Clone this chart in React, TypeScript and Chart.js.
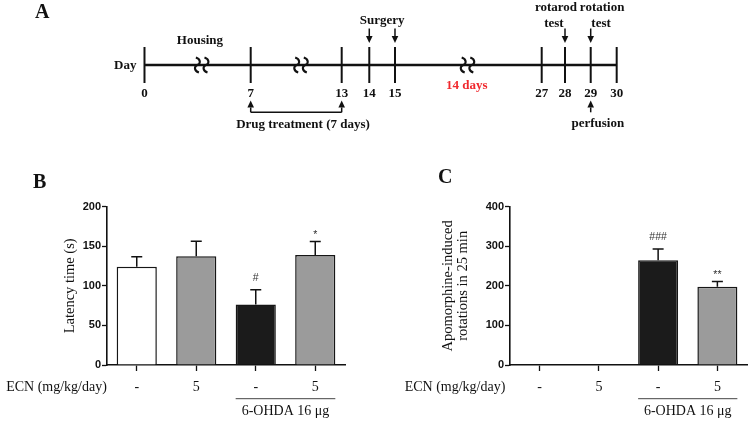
import React, { useEffect, useRef } from "react";
import { Chart, registerables } from "chart.js";

Chart.register(...registerables);

const SERIF = '"Liberation Serif", "Times New Roman", serif';
const SANS = '"Liberation Sans", Arial, sans-serif';

// ---------- Panel A: experimental timeline ----------
const dayLabels = ["0", "7", "13", "14", "15", "27", "28", "29", "30"];
// position of each day on the (compressed) timeline axis
const dayAxisPos = [0, 4.161, 7.726, 8.807, 9.814, 15.562, 16.475, 17.482, 18.5];
const breakAxisPos = [2.241, 6.132, 12.655];
const surgeryDays = ["14", "15"];
const testDays = ["28", "29"];
const treatmentDays = ["7", "13"];
const perfusionDays = ["29"];
const timelineNotes = [
  { text: "Housing", pos: 2.174, row: 41, color: "#111" },
  { text: "Surgery", pos: 9.31, row: 21, color: "#111" },
  { text: "rotarod", pos: 16.12, row: 8, color: "#111" },
  { text: "test", pos: 16.04, row: 24, color: "#111" },
  { text: "rotation", pos: 17.93, row: 8, color: "#111" },
  { text: "test", pos: 17.89, row: 24, color: "#111" },
  { text: "14 days", pos: 12.63, row: 86, color: "#f0282d" },
  { text: "Drug treatment (7 days)", pos: 6.21, row: 124.3, color: "#111" },
  { text: "perfusion", pos: 17.76, row: 123.5, color: "#111" },
];

// ---------- Panels B & C ----------
const groupLabels = ["-", "5", "-", "5"];
const latencyMeans = [124.2, 137.5, 76.5, 139];
const latencyErrors = [12.5, 19, 18.5, 17];
const latencyMarks = ["", "", "#", "*"];
const rotationMeans = [0, 0, 265, 198];
const rotationErrors = [0, 0, 28, 13];
const rotationMarks = ["", "", "###", "**"];
const barFills = ["#ffffff", "#9b9b9b", "#1b1b1b", "#9b9b9b"];

const LINE_ROW = 65;

function drawArrow(ctx: CanvasRenderingContext2D, x: number, yTail: number, yTip: number) {
  const dir = yTip > yTail ? 1 : -1;
  const head = 7;
  ctx.beginPath();
  ctx.moveTo(x, yTail);
  ctx.lineTo(x, yTip - dir * head);
  ctx.stroke();
  ctx.beginPath();
  ctx.moveTo(x, yTip);
  ctx.lineTo(x - 3.3, yTip - dir * head);
  ctx.lineTo(x + 3.3, yTip - dir * head);
  ctx.closePath();
  ctx.fill();
}

function drawSquiggle(ctx: CanvasRenderingContext2D, x: number, y: number) {
  ctx.beginPath();
  ctx.moveTo(x - 1.5, y - 7.5);
  ctx.bezierCurveTo(x + 4, y - 5.5, x + 3, y - 1, x, y);
  ctx.bezierCurveTo(x - 3, y + 1, x - 4, y + 5.5, x + 1.5, y + 7.5);
  ctx.stroke();
}

const timelinePlugin = {
  id: "timelineDecor",
  afterDatasetsDraw(chart: any) {
    const { ctx } = chart;
    const xs = chart.scales.x;
    const ys = chart.scales.y;
    const px = (p: number) => xs.getPixelForValue(p);
    const py = (r: number) => ys.getPixelForValue(r);
    const dayX = (d: string) => px(dayAxisPos[dayLabels.indexOf(d)]);
    ctx.save();
    ctx.strokeStyle = "#111";
    ctx.fillStyle = "#111";

    // axis breaks
    ctx.lineWidth = 2.1;
    breakAxisPos.forEach((b) => {
      const cx = px(b);
      drawSquiggle(ctx, cx - 4.3, py(LINE_ROW));
      drawSquiggle(ctx, cx + 4.3, py(LINE_ROW));
    });

    // arrows
    ctx.lineWidth = 1.5;
    [...surgeryDays, ...testDays].forEach((d) => drawArrow(ctx, dayX(d), py(28.5), py(43)));
    [...treatmentDays, ...perfusionDays].forEach((d) => drawArrow(ctx, dayX(d), py(112.3), py(100.5)));
    ctx.beginPath();
    ctx.moveTo(dayX(treatmentDays[0]), py(112.3));
    ctx.lineTo(dayX(treatmentDays[1]), py(112.3));
    ctx.stroke();

    // text
    ctx.textBaseline = "middle";
    ctx.textAlign = "center";
    ctx.font = `bold 13px ${SERIF}`;
    dayLabels.forEach((d, i) => ctx.fillText(d, px(dayAxisPos[i]), py(94)));
    timelineNotes.forEach((n) => {
      ctx.fillStyle = n.color;
      ctx.fillText(n.text, px(n.pos), py(n.row));
    });
    ctx.fillStyle = "#111";
    ctx.textAlign = "right";
    ctx.fillText("Day", px(dayAxisPos[0]) - 8, py(66));
    ctx.textAlign = "left";
    ctx.textBaseline = "alphabetic";
    ctx.font = `bold 20px ${SERIF}`;
    ctx.fillText("A", 35, 18);
    ctx.restore();
  },
};

function timelineConfig(): any {
  const last = dayAxisPos.length - 1;
  return {
    type: "scatter",
    data: {
      datasets: [
        {
          data: [
            { x: dayAxisPos[0], y: LINE_ROW },
            { x: dayAxisPos[last], y: LINE_ROW },
          ],
          showLine: true,
          borderColor: "#111",
          borderWidth: 2.6,
          pointRadius: 0,
        },
        {
          data: dayAxisPos.map((p) => ({ x: p, y: LINE_ROW })),
          showLine: false,
          pointStyle: "line",
          pointRotation: 90,
          pointRadius: 18,
          pointBorderWidth: 2,
          pointBorderColor: "#111",
          borderColor: "#111",
        },
      ],
    },
    options: {
      responsive: false,
      animation: false,
      events: [],
      layout: { padding: 0, autoPadding: false },
      plugins: { legend: { display: false }, tooltip: { enabled: false } },
      scales: {
        x: { type: "linear", display: false, min: -5.661, max: 23.723 },
        y: { type: "linear", display: false, min: 0, max: 140, reverse: true },
      },
    },
    plugins: [timelinePlugin],
  };
}

interface PanelCfg {
  means: number[];
  errors: number[];
  marks: string[];
  yMax: number;
  yStep: number;
  yTitle: string | string[];
  titleLineHeight: number;
  titleCenter: number;
  axisWidth: number;
  padRight: number;
  letter: string;
  letterX: number;
  letterY: number;
  ecnCenter: number;
}

function makeBarDecor(cfg: PanelCfg) {
  return {
    id: "barDecor",
    afterDatasetsDraw(chart: any) {
      const { ctx } = chart;
      const meta = chart.getDatasetMeta(0);
      const ys = chart.scales.y;
      ctx.save();
      ctx.strokeStyle = "#111";
      ctx.fillStyle = "#333";
      ctx.lineWidth = 1.5;
      cfg.means.forEach((m, i) => {
        const e = cfg.errors[i];
        const bar = meta.data[i];
        const yt = ys.getPixelForValue(m + e);
        if (e > 0) {
          const yb = ys.getPixelForValue(m);
          ctx.beginPath();
          ctx.moveTo(bar.x, yb);
          ctx.lineTo(bar.x, yt);
          ctx.moveTo(bar.x - 5.5, yt);
          ctx.lineTo(bar.x + 5.5, yt);
          ctx.stroke();
        }
        const mk = cfg.marks[i];
        if (mk) {
          ctx.font = `10.5px ${SANS}`;
          ctx.textAlign = "center";
          ctx.textBaseline = "middle";
          const off = mk.startsWith("*") ? 6 : 11.5;
          ctx.fillText(mk, bar.x, yt - off);
        }
      });
      ctx.restore();
    },
    afterDraw(chart: any) {
      const { ctx, chartArea } = chart;
      const meta = chart.getDatasetMeta(0);
      const b2 = meta.data[2];
      const b3 = meta.data[3];
      ctx.save();
      ctx.fillStyle = "#111";
      ctx.textBaseline = "alphabetic";
      ctx.textAlign = "left";
      ctx.font = `bold 20px ${SERIF}`;
      ctx.fillText(cfg.letter, cfg.letterX, cfg.letterY);

      ctx.font = `14px ${SERIF}`;
      ctx.textAlign = "center";
      ctx.textBaseline = "middle";
      ctx.fillText("ECN (mg/kg/day)", cfg.ecnCenter, chartArea.bottom + 22.7);

      const x0 = b2.x - b2.width / 2;
      const x1 = b3.x + b3.width / 2;
      ctx.strokeStyle = "#444";
      ctx.lineWidth = 1;
      ctx.beginPath();
      ctx.moveTo(x0, chartArea.bottom + 33.7);
      ctx.lineTo(x1, chartArea.bottom + 33.7);
      ctx.stroke();
      ctx.fillText("6-OHDA 16 \u03bcg", (b2.x + b3.x) / 2, chartArea.bottom + 46.7);
      ctx.restore();
    },
  };
}

function barConfig(cfg: PanelCfg): any {
  const titleSize = 14.5;
  const titlePad = cfg.titleCenter - (titleSize * cfg.titleLineHeight) / 2;
  return {
    type: "bar",
    data: {
      labels: groupLabels,
      datasets: [
        {
          data: cfg.means,
          backgroundColor: barFills,
          borderColor: "#161616",
          borderWidth: 1.5,
          barPercentage: 0.675,
          categoryPercentage: 1,
        },
      ],
    },
    options: {
      responsive: false,
      animation: false,
      events: [],
      layout: { padding: { top: 66.7, right: cfg.padRight, left: 0, bottom: 0 } },
      plugins: { legend: { display: false }, tooltip: { enabled: false } },
      scales: {
        x: {
          type: "category",
          offset: true,
          grid: {
            offset: false,
            drawOnChartArea: false,
            drawTicks: true,
            tickLength: 6,
            tickColor: "#111",
            tickWidth: 1.3,
          },
          border: { display: true, color: "#111", width: 1.6 },
          ticks: {
            color: "#111",
            font: { family: SERIF, size: 14 },
            padding: 8,
            maxRotation: 0,
            autoSkip: false,
          },
          afterFit: (s: any) => {
            s.height = 56;
            s.paddingLeft = 0;
            s.paddingRight = 0;
          },
        },
        y: {
          type: "linear",
          min: 0,
          max: cfg.yMax,
          ticks: {
            stepSize: cfg.yStep,
            color: "#111",
            font: { family: SANS, size: 11, weight: "bold" },
            padding: 1,
          },
          grid: {
            drawOnChartArea: false,
            drawTicks: true,
            tickLength: 5,
            tickColor: "#111",
            tickWidth: 1.3,
          },
          border: { display: true, color: "#111", width: 1.6 },
          title: {
            display: true,
            text: cfg.yTitle,
            color: "#111",
            font: { family: SERIF, size: titleSize, lineHeight: cfg.titleLineHeight },
            padding: { top: titlePad, bottom: 0 },
          },
          afterFit: (s: any) => {
            s.width = cfg.axisWidth;
            s.paddingTop = 0;
            s.paddingBottom = 0;
          },
        },
      },
    },
    plugins: [makeBarDecor(cfg)],
  };
}

export default function App() {
  const aRef = useRef<HTMLCanvasElement>(null);
  const bRef = useRef<HTMLCanvasElement>(null);
  const cRef = useRef<HTMLCanvasElement>(null);

  useEffect(() => {
    const charts: Chart[] = [];
    charts.push(new Chart(aRef.current!, timelineConfig()));
    charts.push(
      new Chart(
        bRef.current!,
        barConfig({
          means: latencyMeans,
          errors: latencyErrors,
          marks: latencyMarks,
          yMax: 200,
          yStep: 50,
          yTitle: "Latency time (s)",
          titleLineHeight: 1.2,
          titleCenter: 70,
          axisWidth: 107,
          padRight: 30,
          letter: "B",
          letterX: 33,
          letterY: 48,
          ecnCenter: 56.5,
        })
      )
    );
    charts.push(
      new Chart(
        cRef.current!,
        barConfig({
          means: rotationMeans,
          errors: rotationErrors,
          marks: rotationMarks,
          yMax: 400,
          yStep: 100,
          yTitle: ["Apomorphine-induced", "rotations in 25 min"],
          titleLineHeight: 1.03,
          titleCenter: 73,
          axisWidth: 135,
          padRight: 3,
          letter: "C",
          letterX: 63,
          letterY: 43,
          ecnCenter: 80,
        })
      )
    );
    return () => charts.forEach((c) => c.destroy());
  }, []);

  return (
    <div
      style={{
        position: "absolute",
        left: 0,
        top: 0,
        width: 750,
        height: 421,
        background: "#ffffff",
        overflow: "hidden",
      }}
    >
      <canvas ref={aRef} width={750} height={140} style={{ position: "absolute", left: 0, top: 0 }} />
      <canvas ref={bRef} width={375} height={281} style={{ position: "absolute", left: 0, top: 140 }} />
      <canvas ref={cRef} width={375} height={281} style={{ position: "absolute", left: 375, top: 140 }} />
    </div>
  );
}
